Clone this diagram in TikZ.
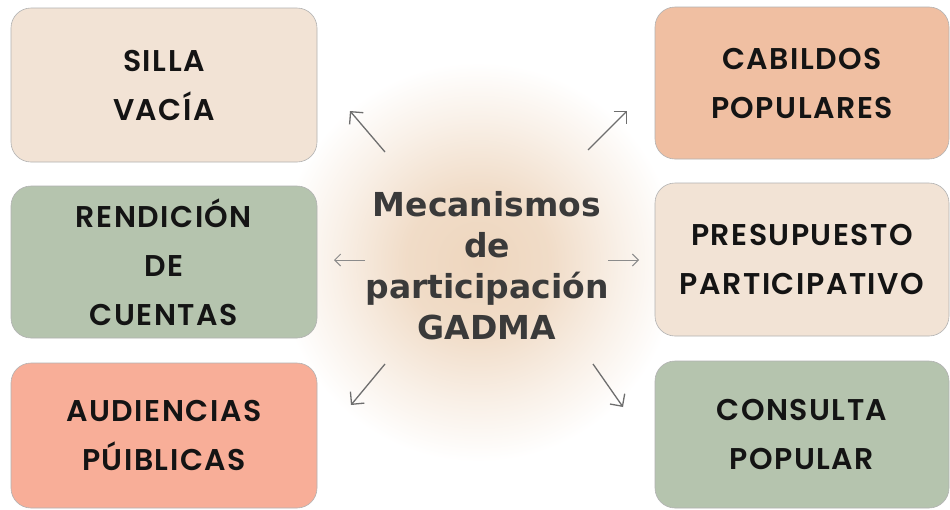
\documentclass[tikz,border=0pt]{standalone}
\usepackage{fontspec}
\newfontfamily\boxfont{Poppins SemiBold}[LetterSpace=5]
\newfontfamily\centfont{DejaVu Sans Bold}
\usetikzlibrary{arrows.meta}
\definecolor{beige}{RGB}{242,227,213}
\definecolor{sage}{RGB}{181,196,174}
\definecolor{salmon}{RGB}{248,174,152}
\definecolor{peach}{RGB}{240,191,162}
\definecolor{glowc}{RGB}{238,214,190}
\definecolor{txtgray}{RGB}{58,58,58}
\definecolor{arrgray}{RGB}{110,110,110}
\pgfdeclareradialshading{glow}{\pgfpoint{0bp}{0bp}}{color(0bp)=(glowc); color(9bp)=(glowc!85!white); color(18bp)=(glowc!35!white); color(25bp)=(white); color(50bp)=(white)}
\tikzset{
  mbox/.style={draw=black!30, line width=0.6pt, rounded corners=20pt, inner sep=0pt, outer sep=0pt,
    align=center, font=\boxfont\fontsize{30}{49}\selectfont, text=black!92},
  diag/.style={draw=arrgray, line width=1.3pt, -{Straight Barb[length=9pt,width=18pt,line width=1.3pt]}},
  horiz/.style={draw=arrgray!80, line width=1pt, -{Straight Barb[length=6pt,width=12pt,line width=1pt]}}
}
\begin{document}
\begin{tikzpicture}[x=1pt,y=-1pt]
\useasboundingbox (0,0) rectangle (950,509);
\fill[white] (0,0) rectangle (950,509);
\shade[shading=glow] (478,262) circle (200);
\node[mbox, fill=beige, minimum width=306pt, minimum height=154pt] (silla) at (164,85) {SILLA\\VACÍA};
\node[mbox, fill=sage, minimum width=306pt, minimum height=152pt] (rend) at (164,262) {RENDICIÓN\\DE\\CUENTAS};
\node[mbox, fill=salmon, minimum width=306pt, minimum height=145pt] (aud) at (164,435.5) {AUDIENCIAS\\PÚIBLICAS};
\node[mbox, fill=peach, minimum width=294pt, minimum height=152pt] (cab) at (802,83) {CABILDOS\\POPULARES};
\node[mbox, fill=beige, minimum width=294pt, minimum height=153pt] (pres) at (802,259.5) {PRESUPUESTO\\PARTICIPATIVO};
\node[mbox, fill=sage, minimum width=294pt, minimum height=147pt] (cons) at (802,434.5) {CONSULTA\\POPULAR};
\node[align=center, text=txtgray, font=\centfont\fontsize{33}{41}\selectfont, inner sep=0pt] (center) at (487,266) {Mecanismos\\de\\participación\\GADMA};
\coordinate (t1) at (385,152); \coordinate (h1) at (350,111);
\coordinate (t2) at (588,150); \coordinate (h2) at (627,111);
\coordinate (t3) at (365,260); \coordinate (h3) at (334,260);
\coordinate (t4) at (608,260); \coordinate (h4) at (639,260);
\coordinate (t5) at (385,364); \coordinate (h5) at (351,405);
\coordinate (t6) at (593,364); \coordinate (h6) at (623,407);
\draw[diag] (t1) -- (h1);
\draw[diag] (t2) -- (h2);
\draw[horiz] (t3) -- (h3);
\draw[horiz] (t4) -- (h4);
\draw[diag] (t5) -- (h5);
\draw[diag] (t6) -- (h6);
\end{tikzpicture}
\end{document}
